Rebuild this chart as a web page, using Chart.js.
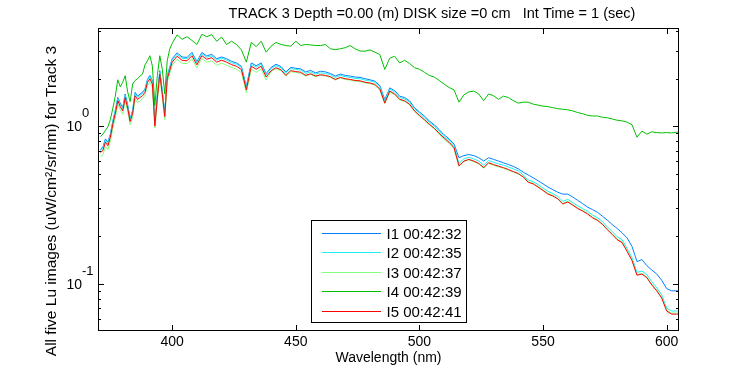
<!DOCTYPE html>
<html><head><meta charset="utf-8">
<script src="https://cdn.jsdelivr.net/npm/chart.js@4/dist/chart.umd.min.js"></script>
<style>html,body{margin:0;padding:0;background:#fff;}canvas{display:block;}</style>
</head><body>
<canvas id="c" width="750" height="375" style="width:750px;height:375px"></canvas>
<script>
const wavelength = [371,372,373,374,375,376,377,378,379,380,381,382,383,384,385,386,387,388,389,390,391,392,393,394,395,396,397,398,399,400,
402,404,406,408,410,412,414,416,418,420,422,424,426,428,430,432,434,436,438,440,442,444,446,448,450,452,454,456,458,460,462,464,466,468,470,472,474,476,478,480,482,484,486,488,490,492,494,496,498,
500,502,504,506,508,510,512,514,516,518,520,522,524,526,528,530,532,534,536,538,540,542,544,546,548,550,552,554,556,558,560,562,564,566,568,570,572,574,576,578,580,582,584,586,588,590,592,594,596,598,600,602,604,605];

const I1 = [0.71,0.74,0.83,0.79,0.89,1.08,1.26,1.52,1.40,1.31,1.60,1.37,1.12,1.26,1.64,1.55,1.60,1.64,1.72,1.98,2.10,1.94,1.06,1.58,2.25,1.68,1.22,2.10,2.36,2.68,
2.92,2.75,2.73,2.94,2.57,2.94,2.79,2.86,2.68,2.75,2.68,2.58,2.52,2.40,1.79,2.52,2.42,2.52,2.15,2.36,2.47,2.39,2.21,2.36,2.33,2.31,2.21,2.26,2.18,2.23,2.21,2.16,2.08,2.14,2.10,2.08,2.05,2.04,2.00,1.97,1.93,1.81,1.47,1.75,1.68,1.55,1.52,1.45,1.31,
1.23,1.16,1.08,1.02,0.95,0.88,0.83,0.77,0.63,0.65,0.66,0.65,0.63,0.60,0.63,0.615,0.60,0.585,0.57,0.555,0.535,0.51,0.49,0.47,0.45,0.43,0.41,0.395,0.38,0.37,0.37,0.355,0.338,0.322,0.306,0.295,0.284,0.268,0.253,0.237,0.224,0.21,0.195,0.172,0.138,0.142,0.13,0.122,0.115,0.105,0.093,0.090,0.090,0.090];

const I2 = [0.70,0.72,0.81,0.77,0.88,1.06,1.24,1.49,1.37,1.29,1.57,1.34,1.10,1.24,1.61,1.52,1.57,1.61,1.69,1.95,2.06,1.91,1.04,1.55,2.20,1.65,1.19,2.06,2.32,2.63,
2.86,2.70,2.68,2.88,2.52,2.88,2.74,2.80,2.63,2.70,2.63,2.53,2.47,2.36,1.75,2.47,2.37,2.47,2.11,2.32,2.42,2.35,2.16,2.32,2.29,2.27,2.16,2.21,2.14,2.18,2.16,2.12,2.04,2.10,2.06,2.04,2.01,2.00,1.96,1.94,1.90,1.77,1.44,1.72,1.65,1.52,1.49,1.42,1.29,
1.21,1.13,1.06,1.00,0.93,0.855,0.815,0.75,0.58,0.62,0.635,0.62,0.60,0.565,0.605,0.59,0.575,0.565,0.55,0.535,0.52,0.49,0.455,0.445,0.425,0.405,0.385,0.373,0.358,0.333,0.343,0.327,0.312,0.30,0.288,0.273,0.262,0.248,0.229,0.214,0.198,0.19,0.167,0.146,0.118,0.12,0.114,0.103,0.094,0.085,0.070,0.067,0.067,0.067];

const I3 = [0.64,0.66,0.74,0.71,0.80,0.97,1.13,1.38,1.27,1.19,1.45,1.24,1.02,1.14,1.49,1.41,1.45,1.49,1.57,1.81,1.91,1.77,0.97,1.43,2.05,1.53,1.10,1.91,2.15,2.44,
2.66,2.51,2.49,2.68,2.35,2.68,2.55,2.60,2.44,2.51,2.44,2.36,2.30,2.19,1.63,2.30,2.20,2.30,1.96,2.22,2.32,2.25,2.08,2.22,2.19,2.17,2.08,2.13,2.06,2.10,2.08,2.04,1.96,2.02,1.98,1.96,1.93,1.92,1.88,1.86,1.82,1.70,1.39,1.65,1.58,1.47,1.43,1.37,1.24,
1.16,1.09,1.02,0.96,0.89,0.82,0.78,0.72,0.555,0.595,0.61,0.595,0.575,0.54,0.58,0.565,0.551,0.54,0.525,0.51,0.495,0.48,0.444,0.434,0.414,0.394,0.374,0.364,0.348,0.323,0.333,0.318,0.303,0.292,0.28,0.265,0.255,0.24,0.222,0.207,0.192,0.184,0.162,0.141,0.114,0.116,0.11,0.099,0.091,0.082,0.068,0.065,0.065,0.065];

const I4 = [0.86,0.89,0.94,0.99,1.10,1.30,1.55,1.97,1.78,1.90,2.09,1.65,1.43,1.85,1.95,2.00,2.08,2.14,2.45,2.60,2.80,2.40,1.35,2.10,2.80,2.30,1.60,2.60,3.08,3.35,
3.80,3.56,3.70,3.50,3.30,3.83,3.70,3.81,3.46,3.68,3.30,3.46,3.30,3.05,2.55,3.40,3.20,3.46,2.95,3.22,3.40,3.30,3.25,3.22,3.46,3.25,3.30,3.28,3.25,3.25,3.30,3.10,3.06,3.10,3.15,3.25,3.10,3.00,2.99,3.05,2.95,2.85,2.29,2.70,2.78,2.52,2.62,2.50,2.35,
2.30,2.20,2.10,2.05,1.95,1.85,1.76,1.70,1.42,1.58,1.65,1.67,1.60,1.45,1.60,1.56,1.48,1.55,1.52,1.45,1.40,1.42,1.42,1.38,1.36,1.34,1.33,1.31,1.29,1.28,1.27,1.25,1.22,1.20,1.17,1.16,1.16,1.14,1.13,1.11,1.09,1.08,1.06,1.02,0.85,0.93,0.89,0.92,0.91,0.905,0.91,0.905,0.915,0.915];

const I5 = [0.68,0.70,0.79,0.75,0.85,1.03,1.20,1.45,1.33,1.25,1.52,1.30,1.07,1.20,1.56,1.48,1.52,1.56,1.64,1.89,2.00,1.85,1.00,1.50,2.14,1.60,1.15,2.00,2.25,2.55,
2.78,2.62,2.60,2.80,2.45,2.80,2.66,2.72,2.55,2.62,2.55,2.46,2.40,2.29,1.70,2.40,2.30,2.40,2.05,2.25,2.35,2.28,2.10,2.25,2.22,2.20,2.10,2.15,2.08,2.12,2.10,2.06,1.98,2.04,2.00,1.98,1.95,1.94,1.90,1.88,1.84,1.72,1.40,1.67,1.60,1.48,1.45,1.38,1.25,
1.17,1.10,1.03,0.97,0.90,0.84,0.79,0.73,0.56,0.60,0.615,0.60,0.58,0.545,0.586,0.57,0.557,0.545,0.53,0.515,0.50,0.475,0.44,0.43,0.41,0.39,0.37,0.36,0.345,0.32,0.33,0.315,0.30,0.289,0.277,0.262,0.252,0.238,0.22,0.205,0.19,0.182,0.16,0.14,0.113,0.115,0.109,0.098,0.090,0.081,0.067,0.064,0.064,0.064];

const seriesNames = ['I1 00:42:32','I2 00:42:35','I3 00:42:37','I4 00:42:39','I5 00:42:41'];
const seriesColors = ['#0080ff','#20f0f0','#80ff80','#00c000','#ff0000'];
const xTicks = [400,450,500,550,600];
const yMajorTicks = [0.1,1];
const yTickSup = ['-1','0'];
const yMinorTicks = [0.06,0.07,0.08,0.09,0.2,0.3,0.4,0.5,0.6,0.7,0.8,0.9,2,3,4];
const titleText = 'TRACK 3 Depth =0.00 (m) DISK size =0 cm   Int Time = 1 (sec)';
const xLabel = 'Wavelength (nm)';
const yLabel = 'All five Lu images (uW/cm\u00B2/sr/nm) for Track 3';

const FONT = '"Liberation Sans", Arial, Helvetica, sans-serif';
const series = [I1,I2,I3,I4,I5];

const frame = {
  id:'frame',
  afterDatasetsDraw(chart){
    const {ctx, chartArea:a, scales:{x,y}} = chart;
    ctx.save();
    ctx.setLineDash([]);
    ctx.strokeStyle='#000'; ctx.lineWidth=1; ctx.fillStyle='#000';
    ctx.strokeRect(a.left+0.5, a.top+0.5, a.right-a.left-1, a.bottom-a.top-1);
    ctx.beginPath();
    xTicks.forEach(v=>{
      const p=Math.round(x.getPixelForValue(v))+0.5;
      ctx.moveTo(p,a.bottom); ctx.lineTo(p,a.bottom-6);
      ctx.moveTo(p,a.top); ctx.lineTo(p,a.top+6);
    });
    yMajorTicks.forEach(v=>{
      const p=Math.round(y.getPixelForValue(v))+0.5;
      ctx.moveTo(a.left,p); ctx.lineTo(a.left+6,p);
      ctx.moveTo(a.right,p); ctx.lineTo(a.right-6,p);
    });
    yMinorTicks.forEach(v=>{
      const p=Math.round(y.getPixelForValue(v))+0.5;
      ctx.moveTo(a.left,p); ctx.lineTo(a.left+3,p);
      ctx.moveTo(a.right,p); ctx.lineTo(a.right-3,p);
    });
    ctx.stroke();
    // x tick labels
    ctx.font='14px '+FONT; ctx.textAlign='center'; ctx.textBaseline='alphabetic';
    xTicks.forEach(v=>{ ctx.fillText(String(v), x.getPixelForValue(v), a.bottom+15); });
    // y tick labels
    yMajorTicks.forEach((v,i)=>{
      const p=y.getPixelForValue(v);
      ctx.font='14px '+FONT; ctx.textAlign='right';
      ctx.fillText('10', 82, p+5);
      ctx.font='13px '+FONT; ctx.textAlign='left';
      ctx.fillText(yTickSup[i], 82, p-9);
    });
    // title
    ctx.font='14.5px '+FONT; ctx.textAlign='center';
    ctx.fillText(titleText, 432, 18);
    // x label
    ctx.font='14px '+FONT;
    ctx.fillText(xLabel, (a.left+a.right)/2, 362);
    // y label
    ctx.save();
    ctx.font='15.5px '+FONT;
    ctx.translate(56,201);
    ctx.rotate(-Math.PI/2);
    ctx.fillText(yLabel,0,0);
    ctx.restore();
    // legend
    const lw=155, lh=102;
    const lx=Math.round((a.left+a.right)/2-lw/2)+0.5, ly=a.bottom-9-lh+0.5;
    ctx.fillStyle='#ffffff'; ctx.fillRect(lx,ly,lw,lh);
    ctx.strokeStyle='#000000'; ctx.strokeRect(lx,ly,lw,lh);
    ctx.font='15px '+FONT; ctx.textAlign='left';
    seriesNames.forEach((n,i)=>{
      const ry=Math.round(ly+12+i*19.6);
      ctx.fillStyle=seriesColors[i];
      ctx.fillRect(Math.round(lx+10),ry,59,1);
      ctx.fillStyle='#000000';
      ctx.fillText(n, lx+75, ry+6);
    });
    ctx.restore();
  }
};

new Chart(document.getElementById('c'), {
  type:'line',
  data:{datasets: series.map((s,i)=>({
    label: seriesNames[i],
    data: wavelength.map((w,j)=>({x:w,y:s[j]})),
    borderColor: seriesColors[i], backgroundColor: seriesColors[i],
    borderWidth:1, pointRadius:0, fill:false, tension:0, order:5-i
  }))},
  options:{
    responsive:false, animation:false, devicePixelRatio:1,
    layout:{padding:{left:98,top:28,right:71,bottom:44}},
    scales:{
      x:{type:'linear',display:false,min:370,max:605},
      y:{type:'logarithmic',display:false,min:0.05,max:4.2}
    },
    plugins:{legend:{display:false},title:{display:false},tooltip:{enabled:false}}
  },
  plugins:[frame]
});
</script>
</body></html>
